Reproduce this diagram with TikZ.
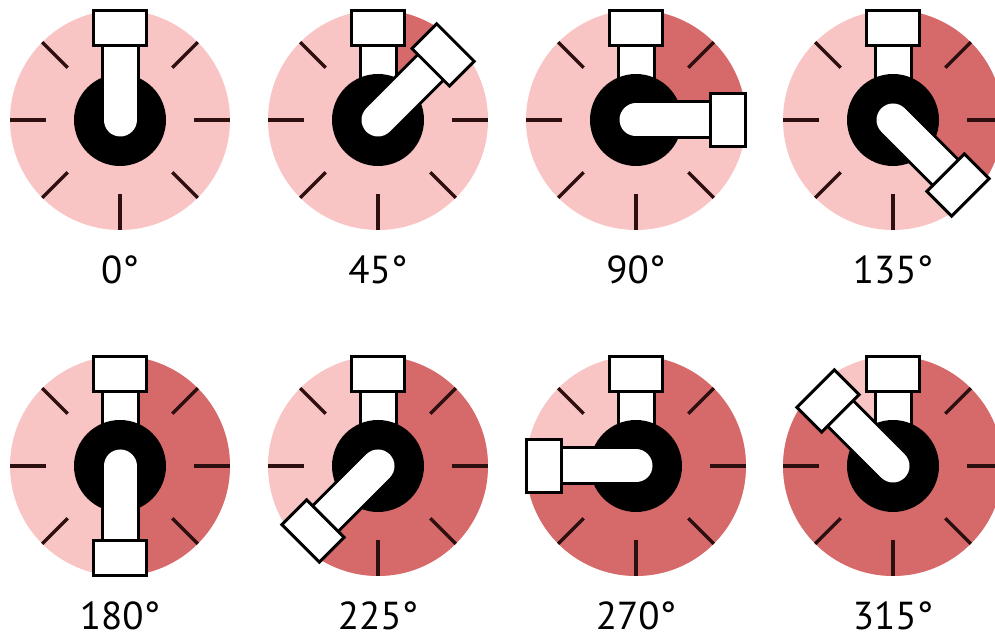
\documentclass[tikz,border=0pt]{standalone}
\usepackage{fontspec}
\newfontfamily\dialfont{PT Sans}
\definecolor{dialpink}{RGB}{249,196,196}
\definecolor{dialred}{RGB}{214,106,106}
\definecolor{dialtickc}{RGB}{45,15,15}

\tikzset{
  dialbg/.style={fill=dialpink},
  dialturn/.style={fill=dialred},
  dialtick/.style={draw=dialtickc, line width=3.5pt},
  armout/.style={draw=black, line width=39pt, line cap=round},
  armin/.style={draw=white, line width=33pt, line cap=round},
  pipebox/.style={draw=black, fill=white, line width=3pt, inner sep=0pt,
    minimum width=53pt, minimum height=35pt},
  dialnum/.style={font=\dialfont\fontsize{39}{44}\selectfont, inner sep=0pt, anchor=base}
}

% #1 ime, #2 x, #3 y, #4 kut
\newcommand{\pipedial}[4]{%
  \coordinate (#1) at (#2,#3);
  \fill[dialbg] (#1) circle (110);
  \ifnum#4>0
    \fill[dialturn] (#1) -- ++(90:110) arc[start angle=90, delta angle=-#4, radius=110] -- cycle;
  \fi
  \foreach \t in {0,45,...,315}
    \draw[dialtick] (#1) ++(\t:74) -- ++(\t:36);
  % nepomicni krak
  \draw[armout] (#1) -- ++(90:80);
  \draw[armin] (#1) -- ++(90:80);
  \node[pipebox] (#1top) at ([shift={(90:92)}]#1) {};
  \fill[black] (#1) circle (46);
  % pomicni krak
  \draw[armout] (#1) -- ++({90-#4}:80);
  \draw[armin] (#1) -- ++({90-#4}:80);
  \node[pipebox, rotate=-#4] (#1box) at ([shift={({90-#4}:92)}]#1) {};
  \node[dialnum] (#1lab) at ([shift={(0,-164)}]#1) {#4°};
}

\begin{document}
\begin{tikzpicture}[x=1pt,y=1pt]
\clip (0,0) rectangle (995,639);

\pipedial{d0}{120}{519}{0}
\pipedial{d45}{378}{519}{45}
\pipedial{d90}{636}{519}{90}
\pipedial{d135}{893}{519}{135}

\pipedial{d180}{120}{173}{180}
\pipedial{d225}{378}{173}{225}
\pipedial{d270}{636}{173}{270}
\pipedial{d315}{893}{173}{315}
\end{tikzpicture}
\end{document}
